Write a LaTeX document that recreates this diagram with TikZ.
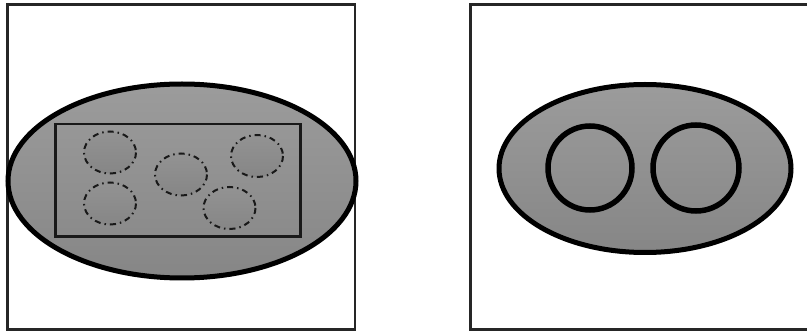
\documentclass[tikz,border=0pt]{standalone}
\begin{document}
\begin{tikzpicture}[x=1pt,y=-1pt,
  frame/.style={draw=black!85,line width=2.5pt},
  bigell/.style={draw=black,line width=5pt,top color=gray!78,bottom color=gray!105!black},
  innerbox/.style={draw=black!90,line width=2.3pt},
  smallell/.style={draw=black!90,line width=2pt,dash pattern=on 6pt off 4pt on 1.5pt off 4pt,top color=gray!85,bottom color=gray!100!black!95},
  ring/.style={draw=black,line width=5.5pt}]
\useasboundingbox (0,0) rectangle (807,331);
\fill[white] (0,0) rectangle (807,331);
\begin{scope}
\clip (0,0) rectangle (807,331);
% left panel
\draw[frame] (7.5,4.5) rectangle (355,329.5);
\path[bigell] (182,181) ellipse [x radius=174, y radius=97];
\draw[innerbox] (55.5,124) rectangle (300.5,236.5);
\path[smallell] (110,152.5) ellipse [x radius=26, y radius=21];
\path[smallell] (110,203.5) ellipse [x radius=26, y radius=21];
\path[smallell] (181,174.5) ellipse [x radius=26, y radius=21];
\path[smallell] (257,156) ellipse [x radius=26, y radius=21];
\path[smallell] (229.5,208) ellipse [x radius=26, y radius=21];
% right panel
\draw[frame] (470.5,4.5) rectangle (815,329.5);
\path[bigell] (645,168.5) ellipse [x radius=146, y radius=84];
\draw[ring] (590,168) circle [radius=42];
\draw[ring] (696,168) circle [radius=43];
\end{scope}
\end{tikzpicture}
\end{document}
